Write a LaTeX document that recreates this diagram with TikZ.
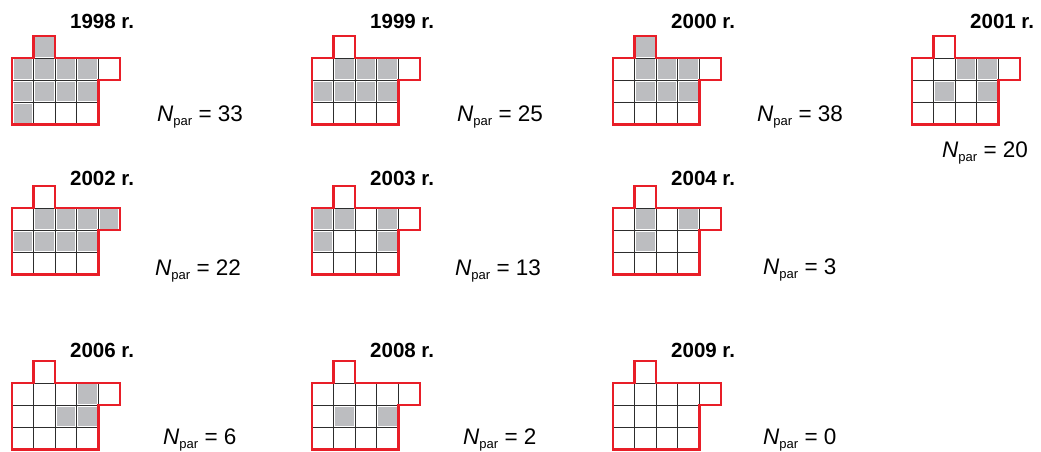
\documentclass[tikz,border=0pt]{standalone}
\usepackage{fontspec}
\setmainfont{Liberation Sans}
\usepackage{tikz}
\definecolor{plotred}{RGB}{232,30,40}
\definecolor{cellgray}{RGB}{188,189,192}
\definecolor{gridgray}{RGB}{45,45,45}
\tikzset{
  cellfill/.style={fill=cellgray},
  gridln/.style={draw=gridgray, line width=0.9pt},
  outln/.style={draw=plotred, line width=2.4pt, line join=miter},
  yeart/.style={font=\fontsize{20.5}{24}\selectfont\bfseries, inner sep=0pt, anchor=base west},
  nlab/.style={font=\fontsize{22.5}{26}\selectfont, inner sep=0pt, anchor=base west},
}
\newcommand{\Npar}[1]{\textit{N}{\fontsize{13}{13}\selectfont\raisebox{-4.8pt}{par}} = #1}
% #1,#2: top left of the main rows, #3: gray cells (col/row, top cell is row -1)
\newcommand{\yearplot}[3]{%
  \begin{scope}[shift={(#1,#2)}, x=21.6pt, y=-22.1pt]
    \foreach \c/\r in {#3} \fill[cellfill] (\c+0.07,\r+0.06) rectangle (\c+0.93,\r+0.94);
    \draw[gridln] (0,1) -- (4,1) (0,2) -- (4,2) (1,0) -- (2,0)
      (1,0) -- (1,3) (2,0) -- (2,3) (3,0) -- (3,3) (4,0) -- (4,1);
    \draw[outln] (0,0) -| (1,-1) -| (2,0) -| (5,1) -| (4,3) -- (0,3) -- cycle;
  \end{scope}}

\begin{document}
\begin{tikzpicture}[x=1pt, y=-1pt]
        \useasboundingbox (0,0) rectangle (1041,452);
        % first row
        \yearplot{12}{58.1}{1/-1,0/0,1/0,2/0,3/0,0/1,1/1,2/1,3/1,0/2}
        \yearplot{312}{58.1}{1/0,2/0,3/0,0/1,1/1,2/1,3/1}
        \yearplot{613}{58.1}{1/-1,1/0,2/0,3/0,1/1,2/1,3/1}
        \yearplot{912}{58.1}{2/0,3/0,1/1,3/1}
        \node[yeart] (t1998) at (70,29) {1998 r.};
        \node[yeart] (t1999) at (370,29) {1999 r.};
        \node[yeart] (t2000) at (671,29) {2000 r.};
        \node[yeart] (t2001) at (970,29) {2001 r.};
        \node[nlab] (n1998) at (157,121) {\Npar{33}};
        \node[nlab] (n1999) at (457,121) {\Npar{25}};
        \node[nlab] (n2000) at (757,121) {\Npar{38}};
        \node[nlab] (n2001) at (942,157) {\Npar{20}};
        % second row
        \yearplot{12}{208.1}{1/0,2/0,3/0,4/0,0/1,1/1,2/1,3/1}
        \yearplot{312}{208.1}{0/0,1/0,3/0,0/1,3/1}
        \yearplot{613}{208.1}{1/0,3/0,1/1}
        \node[yeart] (t2002) at (70,185) {2002 r.};
        \node[yeart] (t2003) at (370,185) {2003 r.};
        \node[yeart] (t2004) at (671,185) {2004 r.};
        \node[nlab] (n2002) at (155,275) {\Npar{22}};
        \node[nlab] (n2003) at (455,275) {\Npar{13}};
        \node[nlab] (n2004) at (763,274) {\Npar{3}};
        % third row
        \yearplot{12}{383.1}{3/0,2/1,3/1}
        \yearplot{312}{383.1}{1/1,3/1}
        \yearplot{613}{383.1}{}
        \node[yeart] (t2006) at (70,357) {2006 r.};
        \node[yeart] (t2008) at (370,357) {2008 r.};
        \node[yeart] (t2009) at (671,357) {2009 r.};
        \node[nlab] (n2006) at (163,444) {\Npar{6}};
        \node[nlab] (n2008) at (463,444) {\Npar{2}};
        \node[nlab] (n2009) at (763,444) {\Npar{0}};
      \end{tikzpicture}
\end{document}
